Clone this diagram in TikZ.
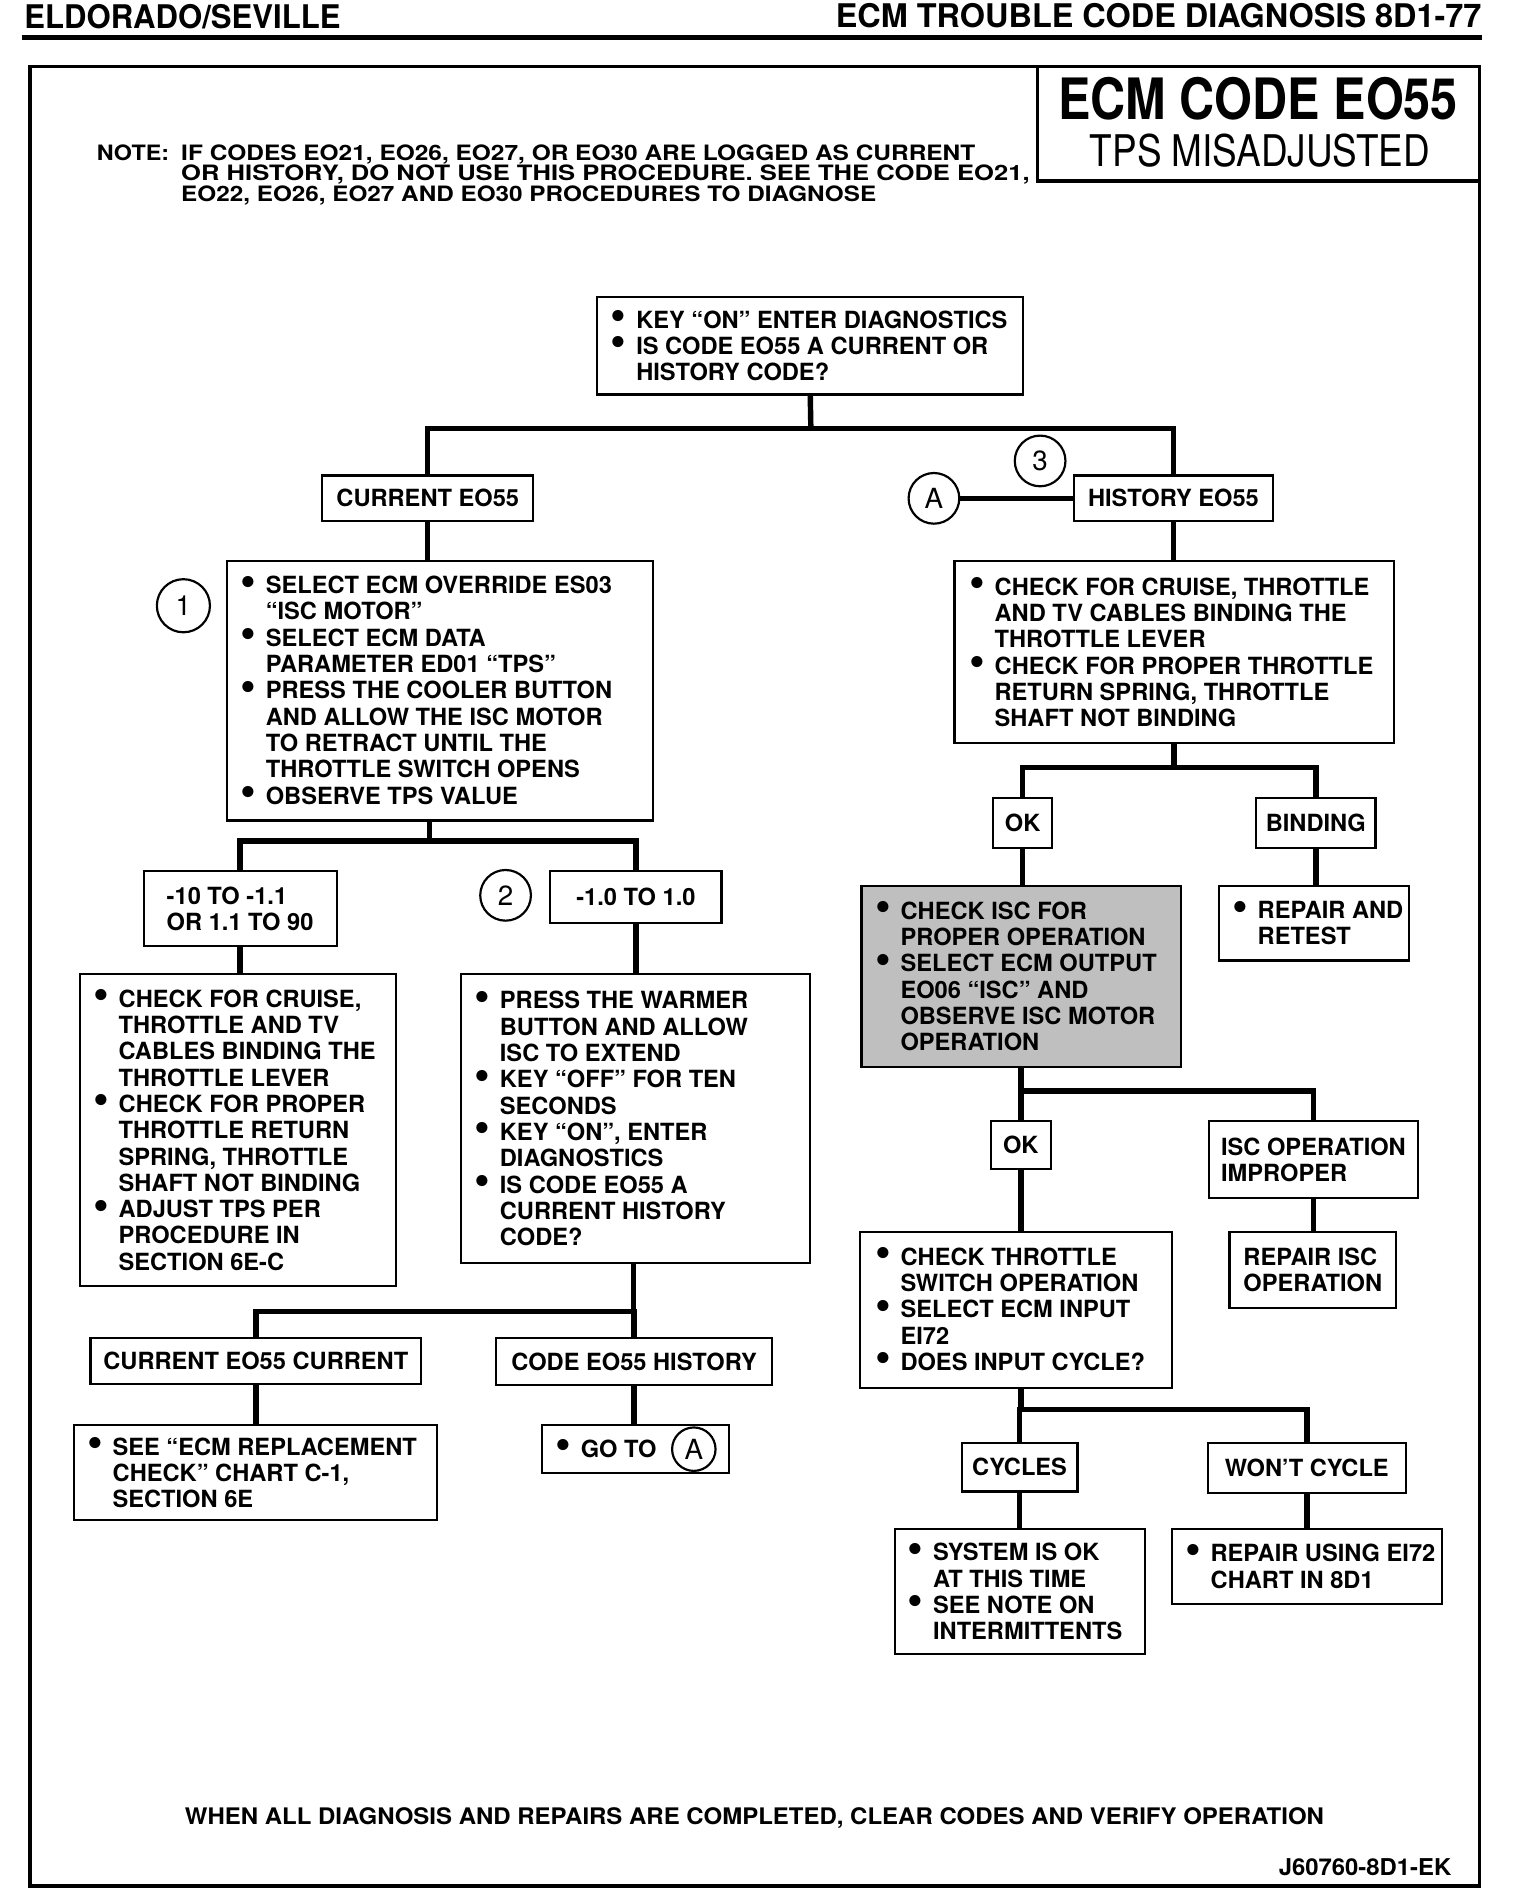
\documentclass[tikz,border=0pt]{standalone}
\usepackage{fontspec}
\setmainfont{TeX Gyre Heros}
\usepackage{graphicx}
\newcommand\boxfont{\fontsize{19.6}{21.8}\selectfont\bfseries}
\newcommand\numfont{\fontsize{23}{24}\selectfont}
\newcommand\bulx{\makebox[21pt][l]{\raisebox{-1.2pt}{\scalebox{1.9}{\textbullet}}}}
\newcommand\nobulx{\hspace*{21pt}}
\tikzset{
  box/.style={draw, line width=1.8pt, inner sep=0pt, font=\boxfont, align=left},
  shaded/.style={fill=black!25},
  conn/.style={line width=4.5pt},
  txt/.style={inner sep=0pt, font=\boxfont, align=left, anchor=west},
  num/.style={draw, circle, line width=1.8pt, minimum size=42pt, inner sep=0pt, font=\numfont},
  plain/.style={inner sep=0pt},
}
\newcommand\mkbox[7][]{%
  \pgfmathsetmacro\mkW{#5-#3}%
  \pgfmathsetmacro\mkH{#6-#4}%
  \pgfmathsetmacro\mkX{(#3+#5)/2}%
  \pgfmathsetmacro\mkY{(#4+#6)/2}%
  \node[box,minimum width=\mkW pt,minimum height=\mkH pt,#1] (#2) at (\mkX,\mkY) {#7};}
\begin{document}
\begin{tikzpicture}[x=1pt,y=-1pt]
\useasboundingbox (0,0) rectangle (1260,1568);
% header
\node[plain, anchor=base west] (hdrL) at (20,24) {\resizebox{262pt}{20pt}{\bfseries ELDORADO/SEVILLE}};
\node[plain, anchor=base east] (hdrR) at (1228,23) {\resizebox{535pt}{20pt}{\bfseries ECM TROUBLE CODE DIAGNOSIS 8D1-77}};
\draw[line width=3.5pt] (18,31) -- (1228,31);
% frame
\draw[line width=3pt] (25,55) rectangle (1226,1563);
\mkbox[line width=2.5pt]{title}{860}{55}{1226}{150}{}
\node[plain, anchor=base west] (t1) at (877,99) {\resizebox{331pt}{35pt}{\bfseries ECM CODE EO55}};
\node[plain, anchor=base west] (t2) at (903,138) {\resizebox{282pt}{27pt}{TPS MISADJUSTED}};
% note
\node[plain, anchor=base west] (n1a) at (80,133) {\resizebox{60pt}{13pt}{\bfseries NOTE:}};
\node[plain, anchor=base west] (n1b) at (150,133) {\resizebox{658pt}{13pt}{\bfseries IF CODES EO21, EO26, EO27, OR EO30 ARE LOGGED AS CURRENT}};
\node[plain, anchor=base west] (n2) at (150,150) {\resizebox{703pt}{13pt}{\bfseries OR HISTORY, DO NOT USE THIS PROCEDURE. SEE THE CODE EO21,}};
\node[plain, anchor=base west] (n3) at (150,167) {\resizebox{576pt}{13pt}{\bfseries EO22, EO26, EO27 AND EO30 PROCEDURES TO DIAGNOSE}};
% bottom
\node[plain, anchor=base west] (bot) at (153,1512) {\resizebox{944pt}{14pt}{\bfseries WHEN ALL DIAGNOSIS AND REPAIRS ARE COMPLETED, CLEAR CODES AND VERIFY OPERATION}};
\node[plain, anchor=base east] (jcode) at (1203,1554) {\resizebox{143pt}{14pt}{\bfseries J60760-8D1-EK}};

% ---------- boxes ----------
\mkbox{top}{495}{246}{848}{327}{}
\node[txt] (topt) at ([xshift=12pt]top.west) {\bulx KEY ``ON'' ENTER DIAGNOSTICS\\ \bulx IS CODE EO55 A CURRENT OR\\ \nobulx HISTORY CODE?};
\mkbox{cur}{267}{394}{442}{432}{CURRENT EO55}
\mkbox{hist}{890}{394}{1055}{432}{HISTORY EO55}
\node[num] (cA) at (774,413) {A};
\node[num] (c3) at (862,382) {3};
\mkbox{bA}{188}{465}{541}{680}{}
\node[txt] (bAt) at ([xshift=12pt]bA.west) {\bulx SELECT ECM OVERRIDE ES03\\ \nobulx ``ISC MOTOR''\\ \bulx SELECT ECM DATA\\ \nobulx PARAMETER ED01 ``TPS''\\ \bulx PRESS THE COOLER BUTTON\\ \nobulx AND ALLOW THE ISC MOTOR\\ \nobulx TO RETRACT UNTIL THE\\ \nobulx THROTTLE SWITCH OPENS\\ \bulx OBSERVE TPS VALUE};
\node[num, minimum size=44pt] (c1) at (152,502) {1};
\mkbox{bB}{791}{465}{1155}{616}{}
\node[txt] (bBt) at ([xshift=13pt]bB.west) {\bulx CHECK FOR CRUISE, THROTTLE\\ \nobulx AND TV CABLES BINDING THE\\ \nobulx THROTTLE LEVER\\ \bulx CHECK FOR PROPER THROTTLE\\ \nobulx RETURN SPRING, THROTTLE\\ \nobulx SHAFT NOT BINDING};
\mkbox{rng1}{119}{722}{279}{784}{-10 TO -1.1\\OR 1.1 TO 90}
\node[num] (c2) at (419,742) {2};
\mkbox{rng2}{456}{722}{598}{765}{-1.0 TO 1.0}
\mkbox{bC}{66}{807}{328}{1066}{}
\node[txt] (bCt) at ([xshift=12pt]bC.west) {\bulx CHECK FOR CRUISE,\\ \nobulx THROTTLE AND TV\\ \nobulx CABLES BINDING THE\\ \nobulx THROTTLE LEVER\\ \bulx CHECK FOR PROPER\\ \nobulx THROTTLE RETURN\\ \nobulx SPRING, THROTTLE\\ \nobulx SHAFT NOT BINDING\\ \bulx ADJUST TPS PER\\ \nobulx PROCEDURE IN\\ \nobulx SECTION 6E-C};
\mkbox{bD}{382}{807}{671}{1047}{}
\node[txt] (bDt) at ([xshift=12pt]bD.west) {\bulx PRESS THE WARMER\\ \nobulx BUTTON AND ALLOW\\ \nobulx ISC TO EXTEND\\ \bulx KEY ``OFF'' FOR TEN\\ \nobulx SECONDS\\ \bulx KEY ``ON'', ENTER\\ \nobulx DIAGNOSTICS\\ \bulx IS CODE EO55 A\\ \nobulx CURRENT HISTORY\\ \nobulx CODE?};
\mkbox{cc}{75}{1109}{349}{1147}{CURRENT EO55 CURRENT}
\mkbox{ch}{411}{1109}{640}{1148}{CODE EO55 HISTORY}
\mkbox{see}{61}{1181}{362}{1260}{}
\node[txt] (seet) at ([xshift=12pt]see.west) {\bulx SEE ``ECM REPLACEMENT\\ \nobulx CHECK'' CHART C-1,\\ \nobulx SECTION 6E};
\mkbox{goto}{449}{1181}{604}{1221}{}
\node[txt] (gotot) at ([xshift=12pt]goto.west) {\bulx GO TO};
\node[num, minimum size=36pt] (gA) at (575,1201) {A};
% right side
\mkbox{ok1}{823}{661}{872}{703}{OK}
\mkbox{bind}{1041}{661}{1140}{703}{BINDING}
\mkbox[shaded]{sh}{714}{734}{979}{884}{}
\node[txt] (sht) at ([xshift=12pt]sh.west) {\bulx CHECK ISC FOR\\ \nobulx PROPER OPERATION\\ \bulx SELECT ECM OUTPUT\\ \nobulx EO06 ``ISC'' AND\\ \nobulx OBSERVE ISC MOTOR\\ \nobulx OPERATION};
\mkbox{rr}{1010}{734}{1168}{796}{}
\node[txt] (rrt) at ([xshift=12pt]rr.west) {\bulx REPAIR AND\\ \nobulx RETEST};
\mkbox{ok2}{821}{929}{871}{969}{OK}
\mkbox{isc}{1002}{929}{1175}{993}{ISC OPERATION\\IMPROPER}
\mkbox{ri}{1019}{1021}{1157}{1084}{REPAIR ISC\\OPERATION}
\mkbox{ct}{713}{1021}{971}{1150}{}
\node[txt] (ctt) at ([xshift=13pt]ct.west) {\bulx CHECK THROTTLE\\ \nobulx SWITCH OPERATION\\ \bulx SELECT ECM INPUT\\ \nobulx EI72\\ \bulx DOES INPUT CYCLE?};
\mkbox{cyc}{797}{1196}{893}{1236}{CYCLES}
\mkbox{wc}{1001}{1196}{1165}{1237}{WON'T CYCLE}
\mkbox{sys}{742}{1267}{949}{1371}{}
\node[txt] (syst) at ([xshift=11pt]sys.west) {\bulx SYSTEM IS OK\\ \nobulx AT THIS TIME\\ \bulx SEE NOTE ON\\ \nobulx INTERMITTENTS};
\mkbox{rep}{971}{1267}{1195}{1329}{}
\node[txt] (rept) at ([xshift=12pt]rep.west) {\bulx REPAIR USING EI72\\ \nobulx CHART IN 8D1};

% ---------- connectors ----------
\coordinate (s1) at (672,355);
\draw[conn] (top.south) -- (s1);
\draw[conn] (cur.north) |- (s1) -| (hist.north);
\draw[conn] (cA) -- (hist.west);
\draw[conn] (cur.south) -- (cur.south |- bA.north);
\draw[conn] (hist.south) -- (hist.south |- bB.north);
\coordinate (s2) at (356,697);
\draw[conn] (bA.south -| s2) -- (s2);
\draw[conn] (rng1.north) |- (s2) -| (rng2.north);
\draw[conn] (rng1.south) -- (rng1.south |- bC.north);
\draw[conn] (rng2.south) -- (rng2.south |- bD.north);
\coordinate (s3) at (525,1087);
\draw[conn] (bD.south -| s3) -- (s3);
\draw[conn] (cc.north) |- (s3) -| (ch.north);
\draw[conn] (cc.south) -- (cc.south |- see.north);
\draw[conn] (ch.south) -- (ch.south |- goto.north);
\coordinate (s4) at (973,636);
\draw[conn] (bB.south -| s4) -- (s4);
\draw[conn] (ok1.north) |- (s4) -| (bind.north);
\draw[conn] (ok1.south) -- (ok1.south |- sh.north);
\draw[conn] (bind.south) -- (bind.south |- rr.north);
\coordinate (s5) at (846,904);
\draw[conn] (sh.south -| s5) -- (s5);
\draw[conn] (ok2.north) |- (s5) -| (isc.north);
\draw[conn] (ok2.south) -- (ok2.south |- ct.north);
\draw[conn] (isc.south) -- (isc.south |- ri.north);
\coordinate (s6) at (846,1168);
\draw[conn] (ct.south -| s6) -- (s6);
\draw[conn] (cyc.north) |- (s6) -| (wc.north);
\draw[conn] (cyc.south) -- (cyc.south |- sys.north);
\draw[conn] (wc.south) -- (wc.south |- rep.north);
\end{tikzpicture}
\end{document}
